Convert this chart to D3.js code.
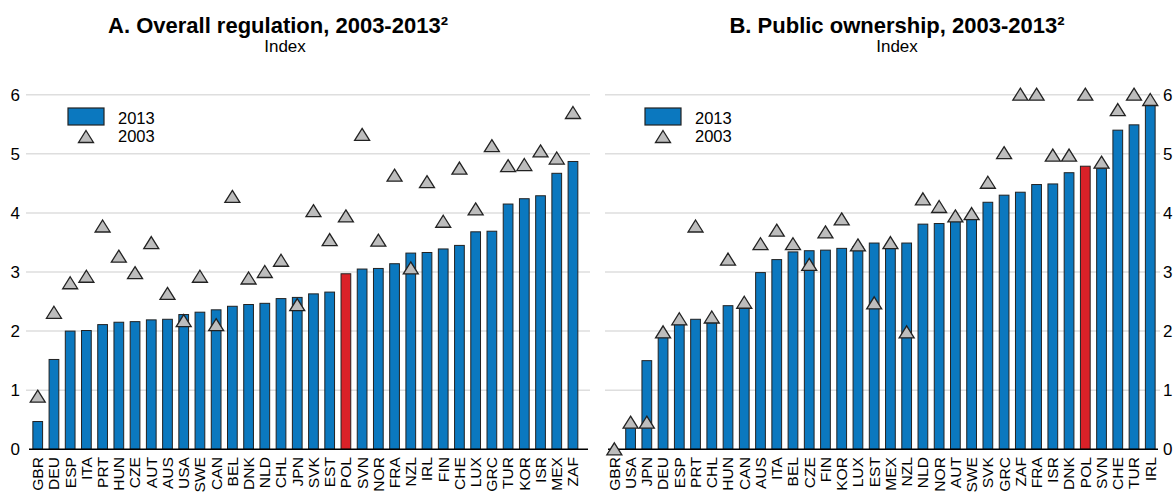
<!DOCTYPE html>
<html lang="en">
    <head>
        <meta charset="utf-8">
        <title>Regulation and public ownership, 2003-2013</title>
        <style>
            body { margin: 0; background: #fff; }
            text { font-family: "Liberation Sans", Arial, sans-serif; fill: #000; }
            .title { font-weight: bold; font-size: 22px; }
            .subtitle { font-size: 17px; }
            .tick-label { font-size: 17px; }
            .cat-label { font-size: 15px; }
            .legend-label { font-size: 16.5px; }
            .grid { stroke: #dedede; stroke-width: 1.5px; }
            .bar { stroke: #222; stroke-width: 1px; }
            .tri { fill: #bdbdbd; stroke: #222; stroke-width: 1.3px; }
        </style>
    </head>
    <body>
        <script src="https://d3js.org/d3.v7.min.js"></script>
        <script type="text/javascript">

            // panel A data
            var catsA = ["GBR","DEU","ESP","ITA","PRT","HUN","CZE","AUT","AUS","USA","SWE","CAN","BEL","DNK","NLD","CHL","JPN",
                         "SVK","EST","POL","SVN","NOR","FRA","NZL","IRL","FIN","CHE","LUX","GRC","TUR","KOR","ISR","MEX","ZAF"];
            var vals2013A = [0.47,1.52,2.0,2.01,2.11,2.15,2.16,2.19,2.2,2.28,2.32,2.36,2.42,2.45,2.47,2.55,2.57,
                             2.63,2.66,2.97,3.05,3.06,3.14,3.32,3.33,3.39,3.45,3.68,3.69,4.15,4.24,4.29,4.67,4.87];
            var vals2003A = [0.89,2.31,2.81,2.92,3.77,3.26,2.98,3.49,2.63,2.17,2.92,2.1,4.27,2.89,3.0,3.19,2.44,
                             4.03,3.54,3.94,5.32,3.53,4.63,3.06,4.52,3.85,4.75,4.06,5.13,4.79,4.81,5.04,4.92,5.69];

            // panel B data
            var catsB = ["GBR","USA","JPN","DEU","ESP","PRT","CHL","HUN","CAN","AUS","ITA","BEL","CZE","FIN","KOR","LUX","EST",
                         "MEX","NZL","NLD","NOR","AUT","SWE","SVK","GRC","ZAF","FRA","ISR","DNK","POL","SVN","CHE","TUR","IRL"];
            var vals2013B = [0,0.41,1.5,1.91,2.13,2.2,2.16,2.43,2.42,2.99,3.21,3.34,3.36,3.37,3.4,3.43,3.49,
                             3.46,3.49,3.81,3.82,3.87,3.89,4.18,4.3,4.35,4.48,4.49,4.68,4.79,4.75,5.4,5.49,5.85];
            var vals2003B = [0,0.45,0.45,1.98,2.2,3.77,2.23,3.21,2.48,3.47,3.7,3.47,3.12,3.67,3.89,3.45,2.47,
                             3.49,1.98,4.23,4.1,3.94,3.98,4.51,5.01,6.0,6.0,4.97,4.97,6.0,4.85,5.74,6.0,5.91];

            var yTicks = [0, 1, 2, 3, 4, 5, 6];
            var highlight = "POL";

            var width = 1173, height = 493;

            var svg = d3.select("body")
                        .append("svg")
                        .attr("width", width)
                        .attr("height", height);

            // triangle marker for the 2003 values
            var triPath = "M0,-6.5L7.5,5.5L-7.5,5.5Z";

            function drawPanel(opt) {
                var g = svg.append("g");

                var x = d3.scaleBand()
                    .domain(opt.cats)
                    .range(opt.bandRange)
                    .paddingInner(0.4)
                    .paddingOuter(0.3);

                var y = d3.scaleLinear()
                    .domain([0, 6])
                    .range([449.3, 94.7]);

                // gridlines
                g.selectAll(".grid")
                    .data(yTicks.slice(1))
                    .enter().append("line")
                    .attr("class", "grid")
                    .attr("x1", opt.gridRange[0])
                    .attr("x2", opt.gridRange[1])
                    .attr("y1", d => y(d))
                    .attr("y2", d => y(d));

                // y tick labels
                g.selectAll(".tick-label")
                    .data(yTicks)
                    .enter().append("text")
                    .attr("class", "tick-label")
                    .attr("x", opt.tickX)
                    .attr("y", d => y(d))
                    .attr("dy", "0.35em")
                    .style("text-anchor", opt.tickAnchor)
                    .text(d => d);

                // bars for 2013
                g.selectAll(".bar")
                    .data(opt.cats)
                    .enter().append("rect")
                    .attr("class", "bar")
                    .attr("x", d => x(d))
                    .attr("width", x.bandwidth())
                    .attr("y", (d, i) => y(opt.v2013[i]))
                    .attr("height", (d, i) => y(0) - y(opt.v2013[i]))
                    .attr("fill", d => d === highlight ? "#da2128" : "#0b78bf");

                // baseline
                g.append("line")
                    .attr("x1", opt.gridRange[0] + 3)
                    .attr("x2", opt.gridRange[1] - 2)
                    .attr("y1", y(0))
                    .attr("y2", y(0))
                    .attr("stroke", "#000")
                    .attr("stroke-width", 1.5);

                // triangles for 2003
                g.selectAll(".tri")
                    .data(opt.cats)
                    .enter().append("path")
                    .attr("class", "tri")
                    .attr("d", triPath)
                    .attr("transform", (d, i) => `translate(${x(d) + x.bandwidth() / 2},${y(opt.v2003[i])})`);

                // category labels, rotated (kept short enough to fit the window)
                g.selectAll(".cat-label")
                    .data(opt.cats)
                    .enter().append("text")
                    .attr("class", "cat-label")
                    .attr("transform", d => `translate(${x(d) + x.bandwidth() / 2},457) rotate(-90) scale(1.04,1)`)
                    .attr("dy", "0.36em")
                    .style("text-anchor", "end")
                    .text(d => d);

                // titles
                g.append("text")
                    .attr("class", "title")
                    .attr("x", opt.titleX)
                    .attr("y", 33)
                    .style("text-anchor", "middle")
                    .text(opt.title);
                g.append("text")
                    .attr("class", "subtitle")
                    .attr("x", opt.subX)
                    .attr("y", 52)
                    .style("text-anchor", "middle")
                    .text("Index");

                // legend
                var lx = opt.legendX;
                g.append("rect")
                    .attr("x", lx)
                    .attr("y", 108)
                    .attr("width", 36)
                    .attr("height", 17)
                    .attr("fill", "#0b78bf")
                    .attr("stroke", "#222")
                    .attr("stroke-width", 1.2);
                g.append("text")
                    .attr("class", "legend-label")
                    .attr("x", lx + 50)
                    .attr("y", 124)
                    .text("2013");
                g.append("path")
                    .attr("class", "tri")
                    .attr("d", triPath)
                    .attr("transform", `translate(${lx + 18},137)`);
                g.append("text")
                    .attr("class", "legend-label")
                    .attr("x", lx + 50)
                    .attr("y", 142)
                    .text("2003");
            }

            drawPanel({
                cats: catsA, v2013: vals2013A, v2003: vals2003A,
                bandRange: [28, 582.7], gridRange: [26, 590],
                tickX: 20, tickAnchor: "end",
                titleX: 278, subX: 285, title: "A. Overall regulation, 2003-2013²",
                legendX: 68
            });

            drawPanel({
                cats: catsB, v2013: vals2013B, v2003: vals2003B,
                bandRange: [604.6, 1160], gridRange: [605, 1160],
                tickX: 1163, tickAnchor: "start",
                titleX: 897, subX: 897, title: "B. Public ownership, 2003-2013²",
                legendX: 645
            });

        </script>
    </body>
</html>
